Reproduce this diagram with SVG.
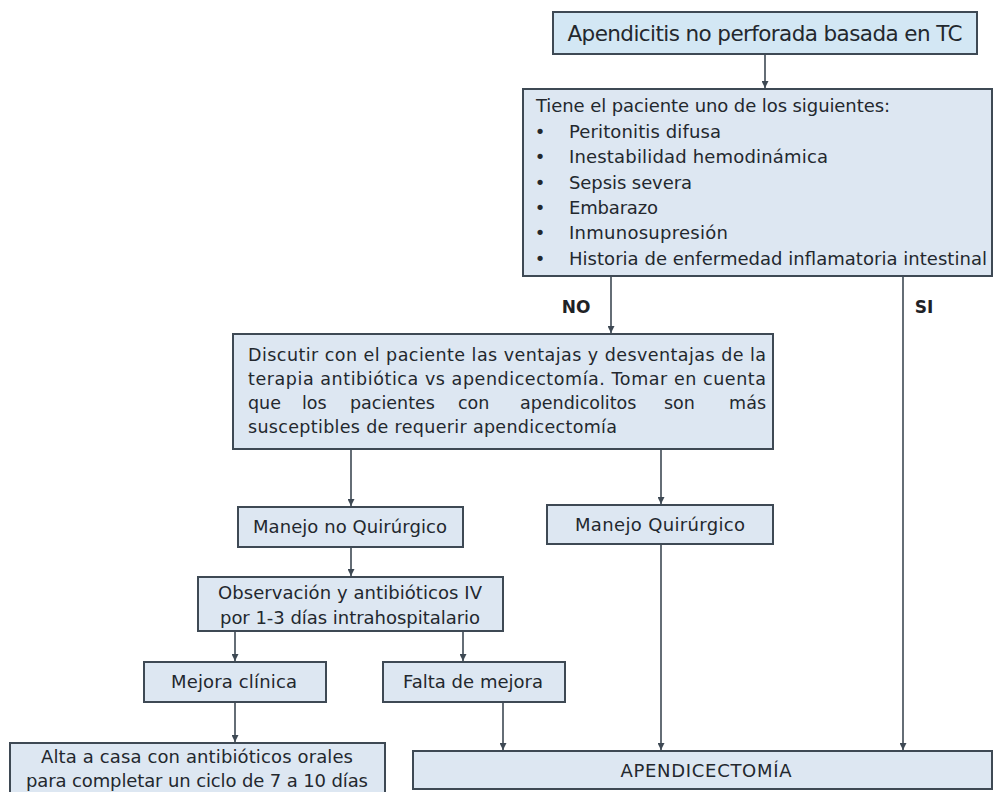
<svg xmlns="http://www.w3.org/2000/svg" width="994" height="792" viewBox="0 0 994 792">
<style>
  .box { fill: #dde7f2; stroke: #3e4954; stroke-width: 2; }
  .top { fill: #d3e7f4; }
  .t { font-family: "DejaVu Sans", "Liberation Sans", sans-serif; fill: #23282e; font-size: 18px; }
  .c { text-anchor: middle; }
  .lbl { font-family: "DejaVu Sans", "Liberation Sans", sans-serif; fill: #1e2226; font-size: 17px; font-weight: bold; }
  .con { fill: none; stroke: #3e4954; stroke-width: 1.6; marker-end: url(#arr); }
</style>
<defs>
  <marker id="arr" viewBox="0 0 8 8" refX="8" refY="4" markerWidth="7" markerHeight="7" markerUnits="userSpaceOnUse" orient="auto">
    <path d="M0,0 L8,4 L0,8 z" fill="#3e4954"/>
  </marker>
</defs>
<rect width="994" height="792" fill="#ffffff"/>

<g id="connectors">
  <path class="con" d="M765,54 V88"/>
  <path class="con" d="M611,276 V333"/>
  <path class="con" d="M903,276 V750"/>
  <path class="con" d="M351,449 V506"/>
  <path class="con" d="M661,449 V504"/>
  <path class="con" d="M351,547 V576"/>
  <path class="con" d="M661,544 V750"/>
  <path class="con" d="M235,631 V661"/>
  <path class="con" d="M463,631 V661"/>
  <path class="con" d="M235,702 V742"/>
  <path class="con" d="M503,702 V750"/>
</g>

<g id="labels">
  <text class="lbl" x="576" y="313" text-anchor="middle">NO</text>
  <text class="lbl" x="924" y="313" text-anchor="middle">SI</text>
</g>

<g id="n-inicio">
  <rect class="box top" x="553" y="12" width="424" height="42"/>
  <text class="t c" x="765" y="41" style="font-size:21.5px" textLength="395">Apendicitis no perforada basada en TC</text>
</g>

<g id="n-criterios">
  <rect class="box" x="523" y="89" width="469" height="187"/>
  <text class="t" x="536" y="112" textLength="354">Tiene el paciente uno de los siguientes:</text>
  <text class="t c" x="540" y="138">•</text>
  <text class="t" x="569" y="138" textLength="152">Peritonitis difusa</text>
  <text class="t c" x="540" y="163">•</text>
  <text class="t" x="569" y="163" textLength="259">Inestabilidad hemodinámica</text>
  <text class="t c" x="540" y="189">•</text>
  <text class="t" x="569" y="189" textLength="123">Sepsis severa</text>
  <text class="t c" x="540" y="214">•</text>
  <text class="t" x="569" y="214" textLength="89">Embarazo</text>
  <text class="t c" x="540" y="239">•</text>
  <text class="t" x="569" y="239" textLength="159">Inmunosupresión</text>
  <text class="t c" x="540" y="265">•</text>
  <text class="t" x="569" y="265" textLength="418">Historia de enfermedad inflamatoria intestinal</text>
</g>

<g id="n-discutir">
  <rect class="box" x="233" y="334" width="540" height="115"/>
  <text class="t" x="248" y="361" style="font-size:17.5px" textLength="518">Discutir con el paciente las ventajas y desventajas de la</text>
  <text class="t" x="248" y="385" style="font-size:17.5px" textLength="518">terapia antibiótica vs apendicectomía. Tomar en cuenta</text>
  <text class="t" y="409" style="font-size:17.5px"><tspan x="248">que</tspan><tspan x="302">los</tspan><tspan x="350">pacientes</tspan><tspan x="458">con</tspan><tspan x="520">apendicolitos</tspan><tspan x="664">son</tspan><tspan x="766" text-anchor="end">más</tspan></text>
  <text class="t" x="248" y="433" style="font-size:17.5px" textLength="369">susceptibles de requerir apendicectomía</text>
</g>

<g id="n-no-quirurgico">
  <rect class="box" x="238" y="507" width="225" height="40"/>
  <text class="t c" x="350" y="533" textLength="194">Manejo no Quirúrgico</text>
</g>

<g id="n-quirurgico">
  <rect class="box" x="547" y="505" width="226" height="39"/>
  <text class="t c" x="660" y="531" textLength="170">Manejo Quirúrgico</text>
</g>

<g id="n-observacion">
  <rect class="box" x="198" y="577" width="305" height="54"/>
  <text class="t c" x="350" y="599" textLength="264">Observación y antibióticos IV</text>
  <text class="t c" x="350" y="624" textLength="260">por 1-3 días intrahospitalario</text>
</g>

<g id="n-mejora">
  <rect class="box" x="144" y="662" width="182" height="40"/>
  <text class="t c" x="234" y="688" textLength="126">Mejora clínica</text>
</g>

<g id="n-falta">
  <rect class="box" x="383" y="662" width="182" height="40"/>
  <text class="t c" x="473" y="688" textLength="140">Falta de mejora</text>
</g>

<g id="n-alta">
  <rect class="box" x="10" y="743" width="375" height="56"/>
  <text class="t c" x="197" y="763" textLength="312">Alta a casa con antibióticos orales</text>
  <text class="t c" x="197" y="787" textLength="342">para completar un ciclo de 7 a 10 días</text>
</g>

<g id="n-apendicectomia">
  <rect class="box" x="413" y="751" width="579" height="38"/>
  <text class="t c" x="706" y="777" textLength="171">APENDICECTOMÍA</text>
</g>
</svg>
